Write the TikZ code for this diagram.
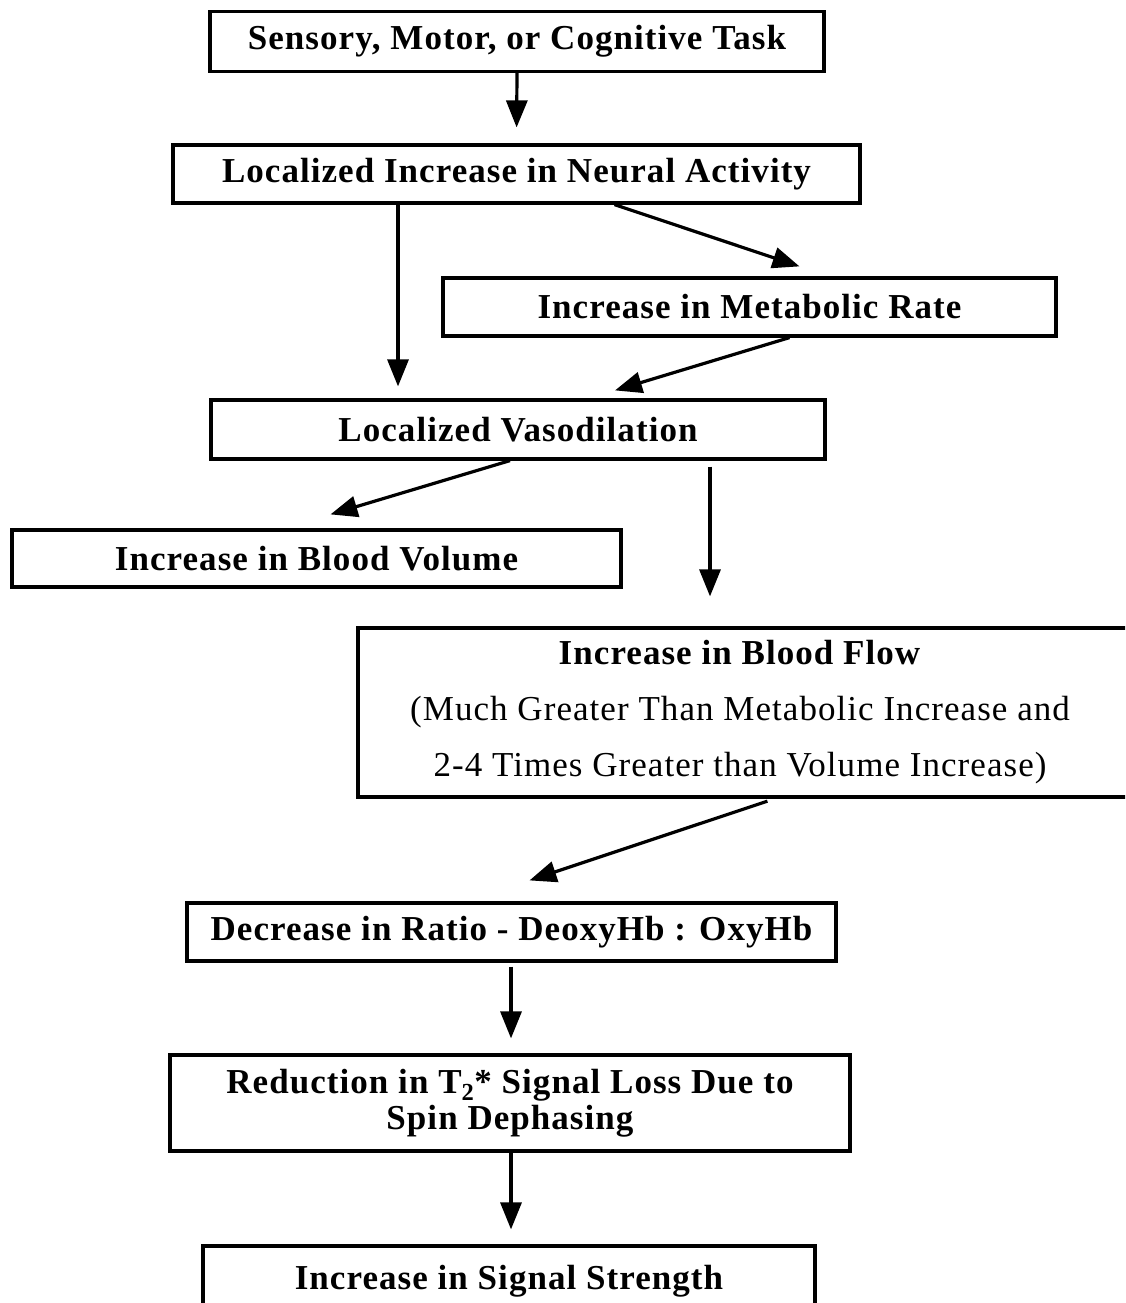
\documentclass[tikz,border=0pt]{standalone}
\usepackage{fontspec}
\setmainfont{Liberation Serif}
\usetikzlibrary{arrows.meta}
\tikzset{
  box/.style={draw, line width=3.2pt, inner sep=0pt, align=center, font=\fontsize{35}{35}\selectfont\bfseries\addfontfeature{LetterSpace=3}},
  arr/.style={line width=3.2pt, -{Triangle[length=27pt,width=21pt]}},
}
\begin{document}
\begin{tikzpicture}[x=1pt,y=-1pt]
\useasboundingbox (0,0) rectangle (1125,1303);
\clip (0,0) rectangle (1125,1303);
\node[box, minimum width=614pt, minimum height=60pt] (b1) at (517,41.5) {Sensory, Motor, or Cognitive Task};
\node[box, minimum width=687pt, minimum height=58pt] (b2) at (516.5,174) {Localized Increase in Neural Activity};
\node[box, minimum width=613pt, minimum height=58pt] (b3) at (749.5,307) {Increase in Metabolic Rate};
\node[box, minimum width=614pt, minimum height=59pt] (b4) at (518,429.5) {Localized Vasodilation};
\node[box, minimum width=609pt, minimum height=57pt] (b5) at (316.5,558.5) {Increase in Blood Volume};
\node[box, minimum width=790pt, minimum height=169pt, font=\fontsize{35}{56}\selectfont\addfontfeature{LetterSpace=3}] (b6) at (753,712.5)
  {\hspace*{-26pt}\textbf{Increase in Blood Flow}\\\hspace*{-26pt}(Much Greater Than Metabolic Increase and\\\hspace*{-26pt}2-4 Times Greater than Volume Increase)};
\node[box, minimum width=649pt, minimum height=58pt] (b7) at (511.5,932) {Decrease in Ratio - DeoxyHb : OxyHb};
\node[box, minimum width=680pt, minimum height=96pt, font=\fontsize{35}{36}\selectfont\bfseries\addfontfeature{LetterSpace=3}] (b8) at (510,1103) {Reduction in T\textsubscript{2}* Signal Loss Due to\\Spin Dephasing};
\node[box, minimum width=612pt, minimum height=70pt] (b9) at (509,1281) {Increase in Signal Strength};

\draw[arr, shorten >=16pt] (b1.south) -- (b2.north);
\draw[arr, shorten >=12pt] (b2.south -| 398,0) -- (b4.north -| 398,0);
\draw[arr] ([xshift=98pt]b2.south) -- ([xshift=50pt,yshift=10pt]b3.north);
\draw[arr] ([xshift=40pt]b3.south) -- ([xshift=97pt,yshift=8pt]b4.north);
\draw[arr] ([xshift=-8pt]b4.south) -- ([xshift=14pt,yshift=14pt]b5.north);
\draw[arr, shorten >=30pt, shorten <=6pt] (b4.south -| 710,0) -- (b6.north -| 710,0);
\draw[arr, shorten <=8pt] ([xshift=22pt]b6.south) -- ([xshift=18pt,yshift=21pt]b7.north);
\draw[arr, shorten >=15pt, shorten <=4pt] (b7.south -| 511,0) -- (b8.north -| 511,0);
\draw[arr, shorten >=15pt] (b8.south -| 511,0) -- (b9.north -| 511,0);
\end{tikzpicture}
\end{document}
